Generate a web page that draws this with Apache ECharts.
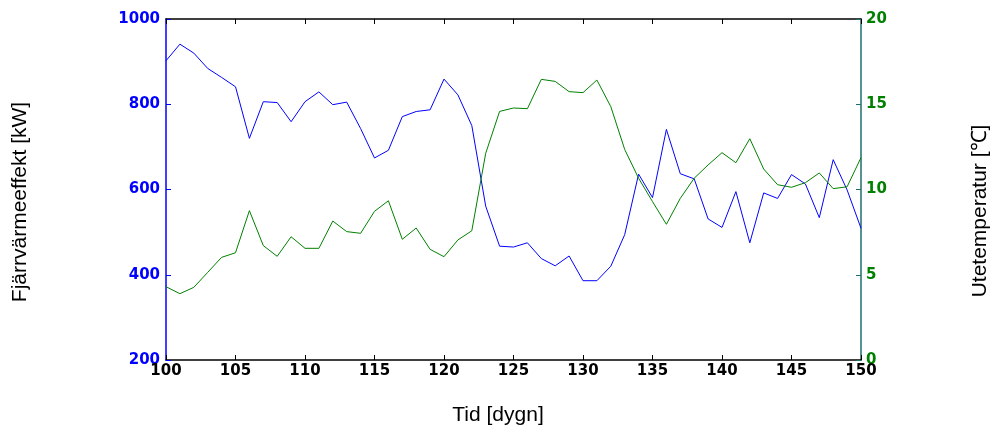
<!DOCTYPE html>
<html>
<head>
<meta charset="utf-8">
<script src="https://cdn.jsdelivr.net/npm/echarts@6/dist/echarts.min.js"></script>
<style>html,body{margin:0;padding:0;background:#fff;}#main{width:995px;height:437px;}</style>
</head>
<body>
<div id="main"></div>
<script>
var days = [100,101,102,103,104,105,106,107,108,109,110,111,112,113,114,115,116,117,118,119,120,121,122,123,124,125,126,127,128,129,130,131,132,133,134,135,136,137,138,139,140,141,142,143,144,145,146,147,148,149,150];
var heatPower = [902,941,920,884,863,841,720,806,804,759,806,829,799,805,743,674,692,771,783,787,859,822,750,561,467,465,475,438,421,444,386,386,420,494,636,581,741,637,625,531,511,595,475,592,579,635,613,534,670,599,509];
var outdoorTemp = [4.30,3.89,4.26,5.14,6.02,6.29,8.76,6.71,6.08,7.23,6.55,6.55,8.15,7.53,7.43,8.72,9.34,7.08,7.74,6.49,6.06,7.04,7.58,12.12,14.58,14.78,14.74,16.46,16.34,15.74,15.68,16.42,14.86,12.35,10.66,9.29,7.96,9.48,10.66,11.44,12.16,11.57,12.98,11.20,10.28,10.13,10.40,10.97,10.05,10.16,11.87];
var xTicks = [100,105,110,115,120,125,130,135,140,145,150];
var leftTicks = [200,400,600,800,1000];
var rightTicks = [0,5,10,15,20];

var chart = echarts.init(document.getElementById('main'));
var pairs = function (vals) { return days.map(function (d, i) { return [d, vals[i]]; }); };
var tickFont = {fontFamily: 'DejaVu Sans', fontWeight: 'bold', fontSize: 15};
var plain = function (v) { return String(v); };
chart.setOption({
  animation: false,
  grid: {left: 166, right: 134, top: 19, bottom: 77, containLabel: false},
  xAxis: [{
    type: 'value', min: xTicks[0], max: xTicks[xTicks.length - 1], interval: 5, position: 'bottom',
    axisLine: {lineStyle: {color: '#000', width: 1.5}},
    axisTick: {inside: true, length: 5, lineStyle: {color: '#000'}},
    axisLabel: Object.assign({color: '#000', margin: 4, formatter: plain}, tickFont),
    splitLine: {show: false}
  }, {
    type: 'value', min: xTicks[0], max: xTicks[xTicks.length - 1], interval: 5, position: 'top',
    axisLine: {show: true, lineStyle: {color: '#000', width: 1.5}},
    axisTick: {show: true, inside: true, length: 5, lineStyle: {color: '#000'}},
    axisLabel: {show: false},
    splitLine: {show: false}
  }],
  yAxis: [{
    type: 'value', min: leftTicks[0], max: leftTicks[leftTicks.length - 1], interval: 200, position: 'left',
    axisLine: {show: true, lineStyle: {color: '#0000ff', width: 1.5}},
    axisTick: {show: true, inside: true, length: 5, lineStyle: {color: '#0000ff'}},
    axisLabel: Object.assign({color: '#0000ff', margin: 6, formatter: plain}, tickFont),
    splitLine: {show: false}
  }, {
    type: 'value', min: rightTicks[0], max: rightTicks[rightTicks.length - 1], interval: 5, position: 'right',
    axisLine: {show: true, lineStyle: {color: '#1e6e6e', width: 1.5}},
    axisTick: {show: true, inside: true, length: 5, lineStyle: {color: '#1e6e6e'}},
    axisLabel: Object.assign({color: '#008000', margin: 5, formatter: plain}, tickFont),
    splitLine: {show: false}
  }],
  series: [{
    name: 'Fjärrvärmeeffekt', type: 'line', xAxisIndex: 0, yAxisIndex: 0,
    data: pairs(heatPower), showSymbol: false, symbol: 'none',
    lineStyle: {color: '#0000ff', width: 1}, itemStyle: {color: '#0000ff'}
  }, {
    name: 'Utetemperatur', type: 'line', xAxisIndex: 0, yAxisIndex: 1,
    data: pairs(outdoorTemp), showSymbol: false, symbol: 'none',
    lineStyle: {color: '#008000', width: 1}, itemStyle: {color: '#008000'}
  }],
  graphic: [{
    type: 'text', x: 498, y: 415,
    style: {text: 'Tid [dygn]', fontFamily: 'Liberation Sans', fontSize: 21, fill: '#000', align: 'center', verticalAlign: 'middle'}
  }, {
    type: 'text', x: 20, y: 202, rotation: Math.PI / 2,
    style: {text: 'Fjärrvärmeeffekt [kW]', fontFamily: 'Liberation Sans', fontSize: 21, fill: '#000', align: 'center', verticalAlign: 'middle'}
  }, {
    type: 'text', x: 980, y: 211, rotation: Math.PI / 2,
    style: {text: 'Utetemperatur [℃]', fontFamily: 'Liberation Sans', fontSize: 21, fill: '#000', align: 'center', verticalAlign: 'middle'}
  }]
});
</script>
</body>
</html>
